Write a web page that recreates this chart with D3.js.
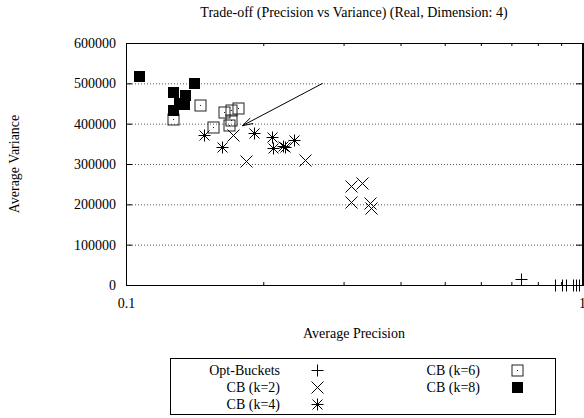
<!DOCTYPE html>
<html>
<head>
<meta charset="utf-8">
<script src="https://cdn.jsdelivr.net/npm/d3@7"></script>
<style>
  html, body { margin: 0; padding: 0; background: #fff; }
  svg { display: block; }
  text { font-family: "Liberation Serif", "Times New Roman", serif; font-size: 14px; fill: #000; }
</style>
</head>
<body>
<svg id="chart" width="584" height="418"></svg>
<script>
// Average precision (x) and average variance (y) per method
const optBucketsX = [0.735, 0.873, 0.903, 0.922, 0.956, 0.970, 0.984];
const optBucketsY = [15000, 1000, 600, 400, 250, 150, 100];

const cbK2X = [0.172, 0.183, 0.247, 0.311, 0.330, 0.311, 0.342, 0.344];
const cbK2Y = [372000, 308000, 310000, 245000, 252000, 206000, 204000, 192000];

const cbK4X = [0.148, 0.162, 0.191, 0.209, 0.210, 0.221, 0.223, 0.234];
const cbK4Y = [372000, 341000, 376000, 368000, 339000, 345000, 343000, 359000];

const cbK6X = [0.145, 0.127, 0.164, 0.170, 0.176, 0.170, 0.168, 0.155];
const cbK6Y = [447000, 412000, 430000, 433000, 438000, 409000, 396000, 392000];

const cbK8X = [0.107, 0.141, 0.127, 0.135, 0.131, 0.134, 0.127];
const cbK8Y = [517000, 500000, 478000, 471000, 452000, 449000, 434000];

const seriesNames = ["Opt-Buckets", "CB (k=2)", "CB (k=4)", "CB (k=6)", "CB (k=8)"];

const xMajorTicks = [0.1, 1];
const xTickLabels = ["0.1", "1"];
const xMinorTicks = [0.2, 0.3, 0.4, 0.5, 0.6, 0.7, 0.8, 0.9];
const yTicks = [0, 100000, 200000, 300000, 400000, 500000, 600000];

const titleText = "Trade-off (Precision vs Variance) (Real, Dimension: 4)";
const xLabel = "Average Precision";
const yLabel = "Average Variance";

// Annotation arrow (data coordinates)
const arrowFrom = [0.27, 500000];
const arrowTo = [0.18, 395000];

const svg = d3.select("#chart");
const plotL = 126, plotR = 582, plotT = 43, plotB = 285;

const x = d3.scaleLog().domain([0.1, 1]).range([plotL, plotR]);
const y = d3.scaleLinear().domain([0, 600000]).range([plotB, plotT]);

// Dotted horizontal grid
svg.append("g")
  .attr("transform", `translate(${plotL},0)`)
  .call(d3.axisLeft(y).tickValues(yTicks.slice(1, -1)).tickSize(-(plotR - plotL)).tickFormat(""))
  .call(g => g.select(".domain").remove())
  .call(g => g.selectAll("line").attr("stroke", "#555").attr("stroke-dasharray", "1,2"));

// Y axis (left) with inward ticks
svg.append("g")
  .attr("transform", `translate(${plotL},0)`)
  .call(d3.axisLeft(y).tickValues(yTicks).tickSize(-6).tickPadding(10).tickFormat(d3.format("d")))
  .call(g => g.select(".domain").remove())
  .call(g => g.selectAll("text").attr("font-size", 14).attr("font-family", "Liberation Serif"));

// Mirrored ticks on the right
svg.append("g")
  .attr("transform", `translate(${plotR},0)`)
  .call(d3.axisRight(y).tickValues(yTicks).tickSize(-6).tickFormat(""))
  .call(g => g.select(".domain").remove());

// X axis: major labels and minor ticks (bottom and top)
svg.append("g")
  .attr("transform", `translate(0,${plotB})`)
  .call(d3.axisBottom(x).tickValues(xMajorTicks).tickSize(-6).tickPadding(13)
    .tickFormat((d, i) => xTickLabels[i]))
  .call(g => g.select(".domain").remove())
  .call(g => g.selectAll("text").attr("font-size", 14).attr("font-family", "Liberation Serif"));

svg.append("g")
  .attr("transform", `translate(0,${plotB})`)
  .call(d3.axisBottom(x).tickValues(xMinorTicks).tickSize(-3).tickFormat(""))
  .call(g => g.select(".domain").remove());

svg.append("g")
  .attr("transform", `translate(0,${plotT})`)
  .call(d3.axisTop(x).tickValues(xMinorTicks).tickSize(-3).tickFormat(""))
  .call(g => g.select(".domain").remove());

// Plot border
svg.append("rect")
  .attr("x", plotL + 0.5).attr("y", plotT + 0.5)
  .attr("width", plotR - plotL).attr("height", plotB - plotT)
  .attr("fill", "none").attr("stroke", "#000").attr("stroke-width", 1);
svg.append("line")
  .attr("x1", plotR + 1).attr("x2", plotR + 1).attr("y1", plotT).attr("y2", plotB + 1)
  .attr("stroke", "#000").attr("stroke-width", 2);

// Point symbols
const symbols = {
  plus: (g) => g.append("path").attr("d", "M-6,0H6M0,-6V6")
    .attr("stroke", "#000").attr("fill", "none"),
  cross: (g) => g.append("path").attr("d", "M-6,-6L6,6M-6,6L6,-6")
    .attr("stroke", "#000").attr("fill", "none"),
  star: (g) => g.append("path").attr("d", "M-6,0H6M0,-6V6M-5,-5L5,5M-5,5L5,-5")
    .attr("stroke", "#000").attr("fill", "none"),
  boxDot: (g) => {
    g.append("rect").attr("x", -5.5).attr("y", -5.5).attr("width", 11).attr("height", 11)
      .attr("fill", "none").attr("stroke", "#222");
    g.append("rect").attr("x", -0.5).attr("y", -0.5).attr("width", 1).attr("height", 1)
      .attr("fill", "#222");
  },
  box: (g) => g.append("rect").attr("x", -5.5).attr("y", -5.5).attr("width", 11).attr("height", 11)
    .attr("fill", "#000")
};

const series = [
  { name: seriesNames[0], xs: optBucketsX, ys: optBucketsY, sym: "plus" },
  { name: seriesNames[1], xs: cbK2X, ys: cbK2Y, sym: "cross" },
  { name: seriesNames[2], xs: cbK4X, ys: cbK4Y, sym: "star" },
  { name: seriesNames[3], xs: cbK6X, ys: cbK6Y, sym: "boxDot" },
  { name: seriesNames[4], xs: cbK8X, ys: cbK8Y, sym: "box" }
];

series.forEach(s => {
  const g = svg.append("g").attr("class", "series");
  s.xs.forEach((xv, i) => {
    const pt = g.append("g")
      .attr("transform", `translate(${Math.round(x(xv)) + 0.5},${Math.round(y(s.ys[i])) + 0.5})`);
    symbols[s.sym](pt);
  });
});

// Annotation arrow
{
  const x1 = x(arrowFrom[0]), y1 = y(arrowFrom[1]);
  const x2 = x(arrowTo[0]), y2 = y(arrowTo[1]);
  const ang = Math.atan2(y1 - y2, x1 - x2);
  const len = 11, spread = Math.PI / 11;
  svg.append("line").attr("x1", x1).attr("y1", y1).attr("x2", x2).attr("y2", y2)
    .attr("stroke", "#000").attr("stroke-width", 1);
  svg.append("path")
    .attr("d", `M${x2 + len * Math.cos(ang + spread)},${y2 + len * Math.sin(ang + spread)}L${x2},${y2}L${x2 + len * Math.cos(ang - spread)},${y2 + len * Math.sin(ang - spread)}`)
    .attr("stroke", "#000").attr("fill", "none");
}

// Titles
svg.append("text").attr("x", (plotL + plotR) / 2).attr("y", 17)
  .attr("text-anchor", "middle").attr("font-size", 13).text(titleText);
svg.append("text").attr("x", (plotL + plotR) / 2).attr("y", 338)
  .attr("text-anchor", "middle").text(xLabel);
svg.append("text").attr("transform", `translate(19,${(plotT + plotB) / 2}) rotate(-90)`)
  .attr("text-anchor", "middle").text(yLabel);

// Legend
const legend = svg.append("g");
legend.append("rect").attr("x", 170.5).attr("y", 358.5).attr("width", 385).attr("height", 56)
  .attr("fill", "none").attr("stroke", "#000");
const legendPos = [
  { tx: 280, sx: 317, cy: 370 },
  { tx: 280, sx: 317, cy: 387 },
  { tx: 280, sx: 317, cy: 404 },
  { tx: 480, sx: 517, cy: 370 },
  { tx: 480, sx: 517, cy: 387 }
];
series.forEach((s, i) => {
  const p = legendPos[i];
  legend.append("text").attr("x", p.tx).attr("y", p.cy + 5)
    .attr("text-anchor", "end").text(s.name);
  const pt = legend.append("g").attr("transform", `translate(${p.sx + 0.5},${p.cy + 0.5})`);
  symbols[s.sym](pt);
});
</script>
</body>
</html>
